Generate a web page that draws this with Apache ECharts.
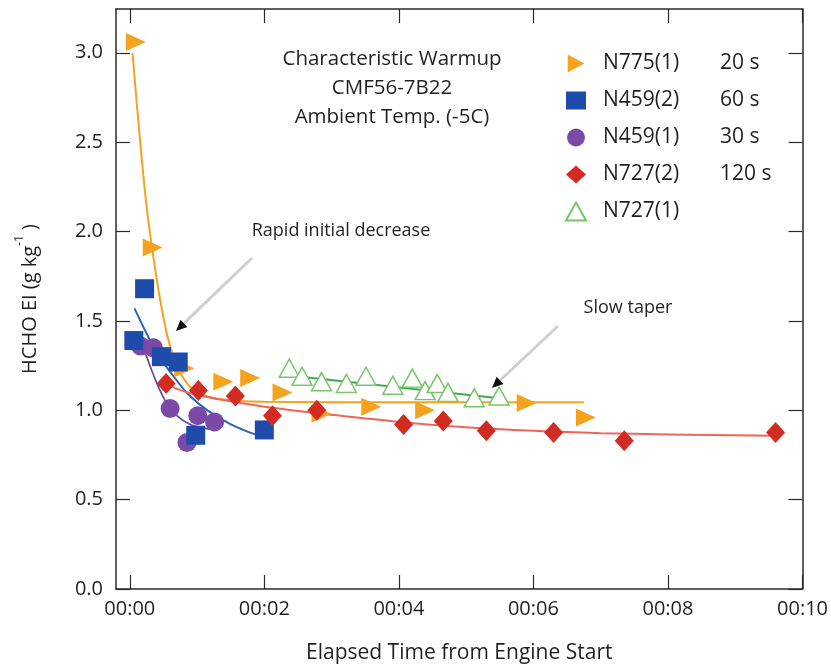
<!DOCTYPE html>
<html>
<head>
<meta charset="utf-8">
<script src="https://cdn.jsdelivr.net/npm/echarts@6/dist/echarts.min.js"></script>
<style>html,body{margin:0;padding:0;background:#fff;}#c{width:831px;height:669px;}</style>
</head>
<body>
<div id="c"></div>
<script>
// ---- data ----
const xTickValues = [0, 2, 4, 6, 8, 10];
const xTickLabels = ['00:00', '00:02', '00:04', '00:06', '00:08', '00:10'];
const yTickValues = [0, 0.5, 1.0, 1.5, 2.0, 2.5, 3.0];
const yTickLabels = ['0.0', '0.5', '1.0', '1.5', '2.0', '2.5', '3.0'];

const seriesNames = ['N775(1)', 'N459(2)', 'N459(1)', 'N727(2)', 'N727(1)'];
const seriesDurations = ['20 s', '60 s', '30 s', '120 s', ''];

const n775X = [0.09, 0.34, 0.81, 1.39, 1.79, 2.27, 2.85, 3.59, 4.39, 5.90, 6.78];
const n775Y = [3.06, 1.91, 1.235, 1.16, 1.18, 1.10, 0.98, 1.02, 1.00, 1.04, 0.96];

const n459_2X = [0.06, 0.22, 0.47, 0.72, 0.98, 2.00];
const n459_2Y = [1.39, 1.68, 1.30, 1.27, 0.86, 0.89];

const n459_1X = [0.16, 0.35, 0.60, 1.01, 1.26, 0.85];
const n459_1Y = [1.36, 1.35, 1.01, 0.97, 0.935, 0.82];

const n727_2X = [0.54, 1.02, 1.57, 2.12, 2.78, 4.07, 4.66, 5.30, 6.30, 7.35, 9.60];
const n727_2Y = [1.15, 1.11, 1.08, 0.97, 1.00, 0.92, 0.94, 0.885, 0.875, 0.83, 0.875];

const n727_1X = [2.37, 2.56, 2.85, 3.22, 3.51, 3.91, 4.20, 4.39, 4.57, 4.73, 5.12, 5.49];
const n727_1Y = [1.235, 1.19, 1.16, 1.15, 1.19, 1.14, 1.18, 1.11, 1.15, 1.10, 1.07, 1.08];

// fitted curves
const fitN775X = [0.04, 0.15, 0.25, 0.35, 0.45, 0.55, 0.65, 0.75, 0.90, 1.10, 1.40, 2.00, 4.00, 6.75];
const fitN775Y = [3.00, 2.52, 2.14, 1.86, 1.62, 1.43, 1.30, 1.21, 1.13, 1.085, 1.06, 1.047, 1.045, 1.045];

const fitN459_2X = [0.07, 0.39, 0.63, 0.88, 1.17, 1.51, 1.86];
const fitN459_2Y = [1.57, 1.33, 1.20, 1.085, 0.995, 0.92, 0.865];

const fitN459_1X = [0.14, 0.25, 0.35, 0.45, 0.55, 0.70, 0.90, 1.10, 1.30];
const fitN459_1Y = [1.42, 1.30, 1.20, 1.11, 1.04, 0.97, 0.92, 0.90, 0.89];

const fitN727_2X = [0.45, 0.70, 1.00, 1.50, 2.00, 3.00, 4.00, 5.00, 6.00, 7.00, 8.00, 9.60];
const fitN727_2Y = [1.17, 1.12, 1.085, 1.05, 1.02, 0.975, 0.935, 0.905, 0.885, 0.872, 0.865, 0.857];

const fitN727_1X = [2.37, 5.42];
const fitN727_1Y = [1.195, 1.07];

// ---- helpers ----
const zip = (xs, ys) => xs.map((x, i) => [x, ys[i]]);
const FONT = 'Open Sans';
const TXT = '#231f20';
const AX = '#2b2b2b';

const colors = {
  orange: '#F5A31E',
  blue: '#1F4BAA',
  purple: '#7A4AA6',
  purpleLine: '#5A46A8',
  red: '#D22B22',
  redLine: '#F0655A',
  green: '#78C56A',
  greenLine: '#3DAA4A',
  blueLine: '#2C64B8'
};

const chart = echarts.init(document.getElementById('c'), null, {renderer: 'canvas'});

function fitSeries(xs, ys, color, w) {
  return {
    type: 'line', data: zip(xs, ys), smooth: 0.35, showSymbol: false, symbol: 'none',
    lineStyle: {color: color, width: w || 2}, z: 2, silent: true, legendHoverLink: false
  };
}

const option = {
  animation: false,
  backgroundColor: '#fff',
  textStyle: {fontFamily: FONT},
  grid: {left: 116, right: 19, top: 9, bottom: 77, containLabel: false},
  xAxis: [{
    type: 'value', min: -0.205, max: 10, position: 'bottom',
    axisLine: {show: true, onZero: false, lineStyle: {color: AX, width: 1.5}},
    axisTick: {show: true, inside: true, length: 14, customValues: xTickValues, lineStyle: {color: AX, width: 1.2}},
    axisLabel: {customValues: xTickValues, margin: 10, fontSize: 20, color: TXT, fontFamily: FONT,
      formatter: v => xTickLabels[xTickValues.indexOf(v)]},
    splitLine: {show: false},
    name: 'Elapsed Time from Engine Start', nameLocation: 'middle', nameGap: 54,
    nameTextStyle: {fontSize: 21, color: TXT, fontFamily: FONT}
  }, {
    type: 'value', min: -0.205, max: 10, position: 'top',
    axisLine: {show: true, onZero: false, lineStyle: {color: AX, width: 1.5}},
    axisTick: {show: true, inside: true, length: 14, customValues: xTickValues, lineStyle: {color: AX, width: 1.2}},
    axisLabel: {show: false}, splitLine: {show: false}
  }],
  yAxis: [{
    type: 'value', min: 0, max: 3.245, position: 'left',
    axisLine: {show: true, onZero: false, lineStyle: {color: AX, width: 1.5}},
    axisTick: {show: true, inside: true, length: 14, customValues: yTickValues, lineStyle: {color: AX, width: 1.2}},
    axisLabel: {customValues: yTickValues, margin: 13, fontSize: 20, color: TXT, fontFamily: FONT,
      formatter: v => yTickLabels[yTickValues.indexOf(v)]},
    splitLine: {show: false},
    name: '{a|HCHO EI (g kg}{s|-1}{a| )}', nameLocation: 'middle', nameGap: 70,
    nameTextStyle: {color: TXT, fontFamily: FONT, rich: {
      a: {fontSize: 20, lineHeight: 32, color: TXT, fontFamily: FONT},
      s: {fontSize: 12, lineHeight: 14, verticalAlign: 'top', color: TXT, fontFamily: FONT}
    }}
  }, {
    type: 'value', min: 0, max: 3.245, position: 'right',
    axisLine: {show: true, onZero: false, lineStyle: {color: AX, width: 1.5}},
    axisTick: {show: true, inside: true, length: 14, customValues: yTickValues, lineStyle: {color: AX, width: 1.2}},
    axisLabel: {show: false}, splitLine: {show: false}
  }],
  legend: {
    orient: 'vertical', left: 560, top: 48, itemWidth: 20, itemHeight: 18, itemGap: 16,
    data: seriesNames.map((n, i) => i === 0 ? {name: n, icon: 'path://M0,0 L11,6 L0,12 Z'} : {name: n}),
    formatter: name => {
      const d = seriesDurations[seriesNames.indexOf(name)];
      return '{n|' + name + '}' + (d ? '{d|' + d + '}' : '');
    },
    textStyle: {fontFamily: FONT, color: TXT, rich: {
      n: {fontSize: 21, width: 117, padding: [0, 0, 0, 12], lineHeight: 20, color: TXT, fontFamily: FONT},
      d: {fontSize: 21, lineHeight: 20, color: TXT, fontFamily: FONT}
    }}
  },
  series: [
    fitSeries(fitN727_1X, fitN727_1Y, colors.greenLine, 2),
    fitSeries(fitN775X, fitN775Y, colors.orange, 2),
    fitSeries(fitN459_1X, fitN459_1Y, colors.purpleLine, 1.6),
    fitSeries(fitN459_2X, fitN459_2Y, colors.blueLine, 2),
    fitSeries(fitN727_2X, fitN727_2Y, colors.redLine, 2),
    {
      name: 'N727(1)', type: 'scatter', data: zip(n727_1X, n727_1Y), symbol: 'triangle', symbolSize: [20, 18],
      itemStyle: {color: '#ffffff', borderColor: colors.green, borderWidth: 1.5, opacity: 1}, z: 3
    },
    {
      name: 'N775(1)', type: 'scatter', data: zip(n775X, n775Y), symbol: 'triangle', symbolSize: [18, 20], symbolRotate: -90,
      itemStyle: {color: colors.orange, opacity: 1}, z: 4
    },
    {
      name: 'N459(1)', type: 'scatter', data: zip(n459_1X, n459_1Y), symbol: 'circle', symbolSize: 19,
      itemStyle: {color: colors.purple, opacity: 1}, z: 4
    },
    {
      name: 'N459(2)', type: 'scatter', data: zip(n459_2X, n459_2Y), symbol: 'rect', symbolSize: 19,
      itemStyle: {color: colors.blue, opacity: 1}, z: 5
    },
    {
      name: 'N727(2)', type: 'scatter', data: zip(n727_2X, n727_2Y), symbol: 'diamond', symbolSize: [19, 21],
      itemStyle: {color: colors.red, opacity: 1}, z: 6
    }
  ]
};
chart.setOption(option);

// annotations
function arrow(x1, y1, x2, y2) {
  const ang = Math.atan2(y2 - y1, x2 - x1);
  const L = 11, W = 5;
  const bx = x2 - L * Math.cos(ang), by = y2 - L * Math.sin(ang);
  const px = -Math.sin(ang) * W, py = Math.cos(ang) * W;
  return [
    {type: 'line', shape: {x1: x1, y1: y1, x2: bx, y2: by}, style: {stroke: '#cfcfcf', lineWidth: 3}, z: 10},
    {type: 'polygon', shape: {points: [[x2, y2], [bx + px, by + py], [bx - px, by - py]]}, style: {fill: '#111'}, z: 11}
  ];
}
const txt = (t, x, y, fs) => ({type: 'text', x: x, y: y, z: 12,
  style: {text: t, fill: TXT, font: fs + 'px "' + FONT + '"', textAlign: 'center', textVerticalAlign: 'middle'}});

chart.setOption({
  graphic: [
    txt('Characteristic Warmup', 392, 59, 20.5),
    txt('CMF56-7B22', 392, 88, 20.5),
    txt('Ambient Temp. (-5C)', 392, 117, 20.5),
    txt('Rapid initial decrease', 341, 231, 18),
    txt('Slow taper', 628, 308, 18),
    ...arrow(252, 258, 176, 331),
    ...arrow(558, 326, 492, 388)
  ]
});
</script>
</body>
</html>
